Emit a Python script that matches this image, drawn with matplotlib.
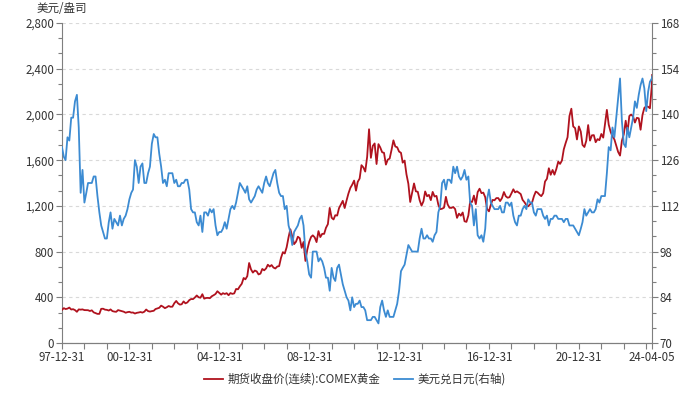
import matplotlib
matplotlib.use("Agg")
import matplotlib.pyplot as plt
from matplotlib.ticker import MultipleLocator, AutoMinorLocator, FuncFormatter
import pandas as pd

plt.rcParams['font.family'] = ['Noto Sans CJK SC', 'DejaVu Sans']

# Monthly gold (COMEX continuous close, USD/oz), 1997-12 .. 2024-03, then 2024-04-05
gold = [
    290,
    305, 297, 301, 310, 293, 296, 288, 273, 294, 292, 294, 288,
    287, 287, 280, 286, 268, 262, 255, 255, 299, 300, 292, 290,
    284, 294, 279, 275, 273, 288, 283, 278, 274, 265, 270, 273,
    266, 267, 258, 264, 267, 271, 266, 274, 293, 279, 275, 279,
    282, 297, 303, 308, 327, 318, 305, 313, 324, 317, 318, 348,
    368, 348, 336, 339, 364, 347, 355, 375, 385, 384, 398, 416,
    400, 396, 427, 388, 394, 395, 392, 409, 418, 429, 453, 438,
    423, 436, 429, 436, 418, 437, 430, 434, 473, 470, 496, 518,
    569, 557, 585, 700, 644, 616, 634, 627, 600, 607, 648, 636,
    653, 685, 669, 682, 660, 652, 669, 673, 745, 795, 783, 838,
    926, 995, 933, 865, 886, 930, 917, 833, 884, 718, 816, 884,
    928, 942, 924, 883, 979, 927, 955, 955, 1008, 1040, 1182, 1096,
    1081, 1118, 1115, 1180, 1212, 1244, 1181, 1248, 1308, 1357, 1385, 1421,
    1333, 1410, 1439, 1556, 1536, 1500, 1628, 1870, 1620, 1725, 1746, 1566,
    1740, 1711, 1669, 1664, 1561, 1604, 1614, 1691, 1773, 1719, 1713, 1675,
    1664, 1578, 1596, 1476, 1393, 1234, 1313, 1396, 1327, 1323, 1250, 1202,
    1240, 1326, 1284, 1296, 1250, 1322, 1282, 1287, 1210, 1171, 1175, 1184,
    1279, 1213, 1183, 1182, 1190, 1172, 1095, 1132, 1114, 1142, 1065, 1060,
    1116, 1238, 1234, 1290, 1215, 1320, 1350, 1311, 1316, 1276, 1173, 1152,
    1212, 1252, 1249, 1268, 1268, 1242, 1269, 1321, 1284, 1271, 1276, 1309,
    1345, 1318, 1327, 1316, 1303, 1253, 1232, 1206, 1196, 1215, 1226, 1284,
    1325, 1316, 1298, 1285, 1311, 1413, 1437, 1529, 1472, 1514, 1473, 1523,
    1587, 1567, 1597, 1695, 1751, 1800, 1986, 2050, 1895, 1880, 1781, 1895,
    1850, 1734, 1715, 1769, 1907, 1771, 1817, 1819, 1757, 1784, 1775, 1829,
    1797, 1909, 2040, 1911, 1848, 1807, 1782, 1726, 1672, 1640, 1768, 1826,
    1945, 1836, 1986, 1999, 1982, 1929, 1970, 1966, 1866, 1996, 2057, 2072,
    2067, 2054, 2254, 2345,
]

# Monthly USD/JPY, same dates
usdjpy = [
    130,
    127, 126, 133, 132, 139, 139, 144, 146, 136, 116, 123, 113,
    116, 119, 119, 119, 121, 121, 115, 110, 106, 104, 102, 102,
    107, 110, 105, 108, 107, 106, 109, 106, 108, 109, 111, 114,
    116, 117, 126, 124, 119, 124, 125, 119, 119, 122, 124, 131,
    134, 133, 133, 128, 124, 119, 120, 118, 122, 122, 122, 119,
    120, 118, 118, 119, 119, 120, 120, 117, 111, 110, 110, 107,
    106, 109, 104, 110, 110, 109, 111, 110, 111, 106, 103, 104,
    104, 105, 107, 105, 108, 111, 112, 111, 113, 116, 119, 118,
    117, 116, 118, 114, 113, 114, 115, 117, 118, 117, 116, 119,
    121, 119, 118, 120, 122, 123, 119, 116, 115, 115, 111, 112,
    106, 104, 100, 104, 105, 106, 108, 109, 106, 98, 95, 91,
    90, 98, 98, 98, 95, 96, 95, 93, 90, 90, 86, 93,
    90, 89, 93, 94, 91, 88, 86, 84, 83, 80, 84, 81,
    82, 82, 83, 81, 81, 80, 77, 77, 77, 78, 78, 77,
    76, 81, 83, 80, 78, 80, 78, 78, 78, 80, 82, 86,
    92, 93, 94, 97, 100, 99, 98, 98, 98, 98, 102, 105,
    102, 102, 103, 102, 102, 101, 103, 104, 110, 112, 119, 120,
    117, 120, 120, 119, 124, 122, 124, 121, 120, 121, 123, 120,
    121, 113, 112, 106, 111, 103, 102, 103, 101, 105, 114, 117,
    113, 112, 111, 111, 111, 112, 110, 110, 113, 113, 112, 113,
    109, 107, 106, 109, 109, 111, 112, 111, 114, 113, 113, 110,
    109, 111, 111, 111, 109, 108, 109, 106, 108, 108, 109, 109,
    108, 108, 108, 107, 108, 108, 106, 106, 106, 105, 104, 103,
    105, 107, 111, 109, 110, 111, 110, 110, 111, 114, 113, 115,
    115, 115, 122, 130, 129, 136, 133, 139, 145, 151, 138, 131,
    130, 136, 133, 136, 139, 144, 142, 146, 149, 151, 148, 141,
    147, 150, 151, 151.6,
]

dates = list(pd.date_range('1997-12-31', periods=316, freq='ME')) + [pd.Timestamp('2024-04-05')]

tick_dates = [pd.Timestamp(f'{y}-12-31') for y in range(1997, 2024)] + [pd.Timestamp('2024-04-05')]
label_dates = ['1997-12-31', '2000-12-31', '2004-12-31', '2008-12-31',
               '2012-12-31', '2016-12-31', '2020-12-31', '2024-04-05']
label_texts = ['97-12-31', '00-12-31', '04-12-31', '08-12-31',
               '12-12-31', '16-12-31', '20-12-31', '24-04-05']

gold_label = '期货收盘价(连续):COMEX黄金'
jpy_label = '美元兑日元(右轴)'

RED = '#B0121E'
BLUE = '#3C8BD2'
AXC = '#7f7f7f'
TXT = '#333333'
FS = 8.3

fig = plt.figure(figsize=(6.96, 3.93), dpi=100)
ax = fig.add_axes([0.089, 0.1272, 0.848, 0.8143])
ax2 = ax.twinx()

l1, = ax.plot(dates, gold, color=RED, lw=1.3, label=gold_label, zorder=3)
l2, = ax2.plot(dates, usdjpy, color=BLUE, lw=1.3, label=jpy_label, zorder=3)

ax.set_ylim(0, 2800)
ax2.set_ylim(70, 168)
ax.set_xlim(dates[0], dates[-1])

ax.yaxis.set_major_locator(MultipleLocator(400))
ax.yaxis.set_minor_locator(AutoMinorLocator(3))
ax.yaxis.set_major_formatter(FuncFormatter(lambda v, p: f'{int(v):,}'))
ax2.yaxis.set_major_locator(MultipleLocator(14))
ax2.yaxis.set_minor_locator(AutoMinorLocator(3))

ax.grid(axis='y', which='major', color='#d9d9d9', ls=(0, (3, 3)), lw=0.8)
ax.set_axisbelow(True)

ax.set_xticks(tick_dates)
lbl_set = {pd.Timestamp(d): t for d, t in zip(label_dates, label_texts)}
ax.set_xticklabels([lbl_set.get(d, '') for d in tick_dates])

for a in (ax, ax2):
    a.spines['top'].set_visible(False)
    for s in ('left', 'right', 'bottom'):
        a.spines[s].set_color(AXC)
        a.spines[s].set_linewidth(0.8)
    a.tick_params(axis='both', which='major', colors=AXC, labelcolor=TXT,
                  labelsize=FS, length=4, width=0.8, pad=1.5)
    a.tick_params(axis='both', which='minor', colors=AXC, length=3, width=0.8)
ax2.spines['left'].set_visible(False)
ax.spines['right'].set_visible(False)

fig.text(0.089, 0.962, '美元/盎司', ha='center', va='bottom', fontsize=FS, color=TXT)

fig.legend(handles=[l1, l2], loc='center', bbox_to_anchor=(0.51, 0.035), ncol=2,
           frameon=False, fontsize=FS, handlelength=1.6, columnspacing=1.2,
           handletextpad=0.4, labelcolor=TXT)

fig.savefig('out.png', dpi=100)
